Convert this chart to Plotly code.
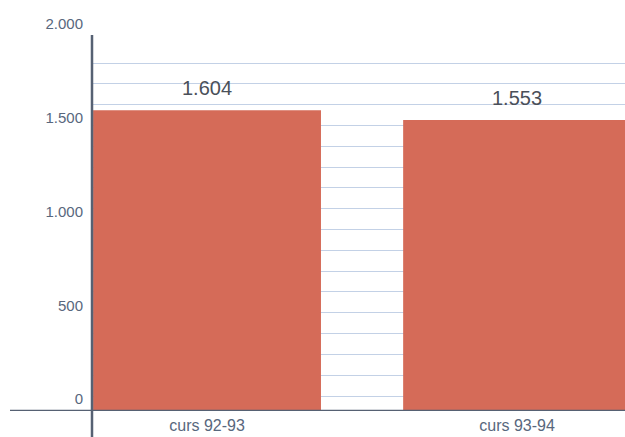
import plotly.graph_objects as go

categories = ["curs 92-93", "curs 93-94"]
values = [1604, 1553]
y_ticks = [0, 500, 1000, 1500, 2000]

BAR = "#d56b58"
AXIS = "#566173"
LBL = "#58677d"
GRID = "#c3d1e6"

W, H = 625, 437
ML, MR, MT, MB = 92, 0, 35, 26
pw = W - ML - MR
ph = H - MT - MB

fig = go.Figure()
fig.add_trace(go.Bar(x=categories, y=values, marker=dict(color=BAR, line=dict(width=0)),
                     hoverinfo="skip"))

for c, v in zip(categories, values):
    fig.add_annotation(x=c, y=v, text=f"{v:,}".replace(",", "."), showarrow=False,
                       yanchor="middle", yshift=22,
                       font=dict(family="Liberation Sans, Arial, sans-serif", size=20, color="#4a5059"))

grid_vals = [80 + 111 * k for k in range(17)]

fig.update_layout(
    template="none",
    width=W, height=H,
    margin=dict(l=ML, r=MR, t=MT, b=MB, pad=0),
    paper_bgcolor="white", plot_bgcolor="white",
    separators=",.",
    bargap=0.265,
    showlegend=False,
    xaxis=dict(type="category", range=[-0.371, 1.348], showline=False, showgrid=False,
               zeroline=False, ticks="", ticklabelstandoff=3, automargin=False,
               tickfont=dict(family="Liberation Sans, Arial, sans-serif", size=16, color=LBL)),
    yaxis=dict(range=[0, 2006], tickmode="array", tickvals=y_ticks, tickformat=",d",
               showgrid=False, zeroline=False, showline=False, ticks="",
               ticklabelshift=-12, ticklabelstandoff=8, automargin=False,
               tickfont=dict(family="Liberation Sans, Arial, sans-serif",
                             size=15, color=LBL),
               minor=dict(tickmode="array", tickvals=grid_vals, showgrid=True,
                          gridcolor=GRID, gridwidth=1, ticks="")),
    shapes=[
        dict(type="line", xref="paper", yref="paper", x0=0, x1=0, y0=-MB / ph, y1=1,
             line=dict(color=AXIS, width=2.5), layer="above"),
        dict(type="line", xref="paper", yref="y", x0=-82 / pw, x1=1, y0=0, y1=0,
             line=dict(color=AXIS, width=2.5), layer="above"),
    ],
)

fig.write_html("out.html", config={"displayModeBar": False},
               post_script="document.body.style.margin='0';document.body.style.overflow='hidden';")
